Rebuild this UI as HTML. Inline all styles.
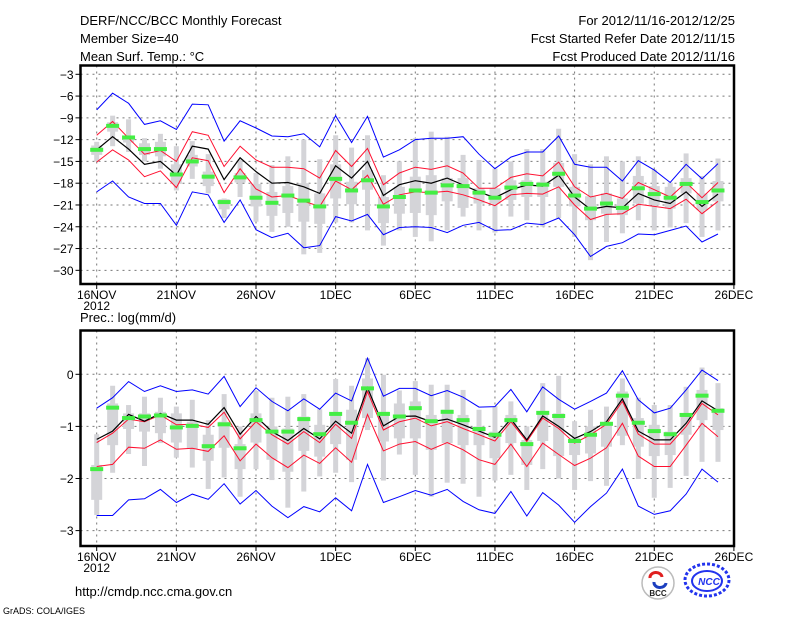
<!DOCTYPE html>
<html><head><meta charset="utf-8"><style>
body{margin:0;background:#fff;}
svg{display:block;font-family:"Liberation Sans",sans-serif;}
</style></head><body>
<svg id="chart" width="800" height="618" viewBox="0 0 800 618" xmlns="http://www.w3.org/2000/svg">
<rect width="800" height="618" fill="#fff"/>
<g font-size="13" fill="#000">
<text x="80" y="25">DERF/NCC/BCC Monthly Forecast</text>
<text x="80" y="43">Member Size=40</text>
<text x="80" y="61">Mean Surf. Temp.: °C</text>
<text x="735" y="25" text-anchor="end">For 2012/11/16-2012/12/25</text>
<text x="735" y="43" text-anchor="end">Fcst Started Refer Date 2012/11/15</text>
<text x="735" y="61" text-anchor="end">Fcst Produced Date 2012/11/16</text>
<text x="80" y="322">Prec.: log(mm/d)</text>
<text x="75" y="596">http://cmdp.ncc.cma.gov.cn</text>
<text x="3" y="614" font-size="9">GrADS: COLA/IGES</text>
</g>
<g id="top"></g>
<g id="bot"></g>
<g>
<circle cx="658" cy="583" r="16" fill="#fff" stroke="#bbb" stroke-width="1.5"/>
<path d="M650 578 a6 5 0 1 1 12 -1" fill="none" stroke="#e02020" stroke-width="3"/>
<path d="M654 582 a6 5 0 1 0 12 1" fill="none" stroke="#1c3fbf" stroke-width="3"/>
<text x="658" y="596" font-size="8" font-weight="bold" text-anchor="middle" fill="#222">BCC</text>
</g>
<g>
<ellipse cx="707" cy="580" rx="22" ry="16" fill="none" stroke="#2233ee" stroke-width="3" stroke-dasharray="3 2"/>
<ellipse cx="707" cy="581" rx="15" ry="10" fill="none" stroke="#2233ee" stroke-width="2"/>
<text x="709" y="585" font-size="10" font-weight="bold" font-style="italic" text-anchor="middle" fill="#2233ee">NCC</text>
</g>
</svg>
<script>
const days = Array.from({length:40},(_, i)=>i);
const xTickLabels = ["16NOV","21NOV","26NOV","1DEC","6DEC","11DEC","16DEC","21DEC","26DEC"];
const tTicks = [-3,-6,-9,-12,-15,-18,-21,-24,-27,-30];
const pTicks = [0,-1,-2,-3];

const tBlack = [-13.4,-11.6,-13.3,-15.4,-15.0,-16.9,-12.9,-13.3,-17.5,-14.5,-16.4,-18.0,-17.9,-18.5,-19.4,-15.6,-17.3,-15.0,-19.7,-18.2,-17.65,-18.0,-17.3,-18.25,-19.2,-20.0,-18.9,-18.25,-18.4,-16.9,-19.9,-21.6,-21.2,-21.4,-19.4,-20.3,-20.8,-19.2,-21.2,-19.5];
const tRedHi = [-11.4,-9.5,-11.8,-14.0,-13.5,-15.0,-10.9,-11.4,-15.7,-12.9,-14.8,-15.8,-15.8,-16.0,-17.3,-13.5,-15.7,-13.2,-18.2,-16.6,-15.8,-16.1,-15.6,-16.6,-18.7,-18.7,-17.2,-16.7,-17.0,-15.1,-18.5,-19.9,-19.4,-20.1,-17.9,-18.9,-19.9,-17.9,-20.0,-17.9];
const tRedLo = [-15.1,-13.4,-14.8,-17.1,-16.3,-18.6,-14.5,-14.9,-19.3,-16.0,-18.8,-19.9,-19.7,-20.5,-21.2,-17.7,-18.9,-16.9,-20.9,-19.6,-19.2,-19.3,-19.1,-19.6,-20.3,-21.1,-19.6,-19.4,-19.5,-18.5,-21.0,-23.0,-22.3,-22.2,-20.9,-21.2,-21.5,-20.2,-22.2,-20.5];
const tBlueHi = [-7.9,-5.6,-7.0,-9.9,-9.4,-10.6,-7.1,-7.2,-12.2,-9.4,-10.4,-11.5,-11.6,-11.2,-13.0,-8.7,-12.4,-8.8,-14.4,-13.4,-12.0,-11.8,-11.8,-11.6,-14.0,-16.0,-14.4,-13.7,-13.7,-11.5,-15.4,-15.8,-15.8,-17.7,-14.9,-16.2,-17.9,-15.4,-17.4,-15.3];
const tBlueLo = [-19.2,-17.7,-19.9,-20.8,-20.8,-23.8,-19.2,-19.6,-23.4,-20.3,-24.4,-25.5,-24.9,-26.9,-26.6,-22.6,-23.2,-22.3,-25.1,-24.1,-24.0,-24.1,-24.8,-23.8,-23.4,-24.5,-24.4,-23.5,-23.7,-22.8,-25.1,-28.1,-26.7,-26.2,-25.0,-25.1,-24.5,-23.9,-26.1,-25.0];
const tGreen = [-13.4,-10.1,-11.7,-13.3,-13.3,-16.8,-15.0,-17.1,-20.6,-17.2,-20.0,-20.7,-19.7,-20.4,-21.2,-17.4,-19.0,-17.6,-21.2,-19.9,-19.0,-19.3,-18.3,-18.4,-19.3,-20.0,-18.6,-18.1,-18.2,-16.7,-19.7,-21.5,-20.8,-21.4,-18.7,-19.5,-20.0,-18.1,-20.6,-19.0];
const tWhiskHi = [-12.3,-8.7,-9.2,-11.8,-11.2,-12.9,-12.2,-14.0,-20.1,-14.7,-16.6,-15.5,-14.3,-12.0,-14.7,-11.4,-13.1,-11.4,-16.9,-15.0,-11.8,-10.9,-11.6,-14.1,-14.8,-16.0,-15.0,-13.3,-13.3,-10.5,-14.0,-15.4,-14.3,-15.0,-14.3,-16.1,-17.9,-13.9,-17.0,-14.6];
const tWhiskLo = [-15.0,-12.9,-13.7,-15.0,-16.0,-19.0,-17.4,-19.4,-22.8,-19.9,-23.3,-24.7,-24.0,-27.8,-27.6,-23.4,-23.4,-24.5,-26.6,-24.5,-25.4,-26.0,-24.5,-22.6,-24.5,-24.8,-22.6,-23.1,-24.0,-22.8,-25.4,-28.6,-26.1,-24.9,-23.1,-24.5,-24.1,-23.5,-25.4,-24.5];
const tBoxHi = [-12.8,-9.6,-11.6,-12.5,-12.3,-15.4,-14.1,-16.4,-20.2,-16.6,-18.1,-19.2,-18.4,-18.0,-19.4,-15.4,-17.8,-16.2,-19.9,-18.5,-17.1,-16.9,-17.3,-17.3,-18.7,-18.7,-17.6,-17.6,-17.8,-15.2,-18.5,-19.8,-19.4,-20.1,-17.0,-18.4,-18.5,-17.3,-19.4,-17.7];
const tBoxLo = [-14.1,-10.9,-12.4,-14.1,-14.3,-18.1,-15.7,-18.4,-21.6,-17.9,-21.2,-22.5,-22.1,-23.3,-23.6,-20.1,-20.9,-18.9,-23.5,-22.2,-22.1,-22.4,-20.5,-21.4,-20.8,-20.8,-20.3,-19.9,-19.9,-18.5,-21.2,-23.1,-22.2,-22.4,-20.8,-21.0,-21.5,-19.4,-21.7,-20.5];

const pBlack = [-1.25,-1.09,-0.77,-0.90,-0.75,-0.88,-0.88,-0.96,-0.64,-1.15,-0.81,-1.10,-1.27,-1.04,-1.24,-0.90,-1.13,-0.26,-0.99,-0.81,-0.80,-0.91,-0.86,-0.97,-1.09,-1.21,-0.86,-1.26,-0.80,-1.00,-1.23,-1.10,-0.91,-0.47,-1.09,-1.26,-1.26,-0.94,-0.51,-0.70];
const pRedHi = [-1.31,-1.13,-0.86,-0.91,-0.78,-0.97,-0.96,-1.02,-0.73,-1.24,-0.91,-1.16,-1.34,-1.10,-1.31,-0.96,-1.23,-0.33,-1.07,-0.91,-0.84,-0.99,-0.91,-1.04,-1.16,-1.28,-0.91,-1.29,-0.84,-1.04,-1.32,-1.16,-0.96,-0.52,-1.15,-1.34,-1.34,-1.00,-0.56,-0.78];
const pRedLo = [-1.77,-1.73,-1.40,-1.42,-1.26,-1.44,-1.42,-1.48,-1.18,-1.66,-1.34,-1.60,-1.79,-1.55,-1.71,-1.41,-1.69,-0.77,-1.47,-1.34,-1.29,-1.44,-1.31,-1.45,-1.64,-1.73,-1.34,-1.77,-1.32,-1.54,-1.75,-1.61,-1.41,-0.94,-1.57,-1.77,-1.77,-1.36,-0.94,-1.20];
const pBlueHi = [-0.65,-0.45,-0.14,-0.33,-0.22,-0.33,-0.30,-0.38,-0.04,-0.62,-0.26,-0.52,-0.70,-0.47,-0.67,-0.36,-0.51,0.31,-0.42,-0.27,-0.27,-0.41,-0.31,-0.44,-0.63,-0.62,-0.29,-0.72,-0.24,-0.48,-0.67,-0.52,-0.36,0.07,-0.49,-0.74,-0.65,-0.30,0.08,-0.12];
const pBlueLo = [-2.71,-2.71,-2.41,-2.39,-2.21,-2.46,-2.30,-2.40,-2.10,-2.49,-2.23,-2.53,-2.75,-2.54,-2.64,-2.37,-2.62,-1.73,-2.46,-2.35,-2.23,-2.32,-2.21,-2.44,-2.60,-2.67,-2.25,-2.72,-2.27,-2.51,-2.84,-2.54,-2.28,-1.82,-2.53,-2.69,-2.62,-2.30,-1.82,-2.07];
const pGreen = [-1.82,-0.64,-0.84,-0.81,-0.79,-1.02,-0.99,-1.38,-0.96,-1.42,-0.88,-1.10,-1.10,-0.86,-1.15,-0.76,-0.93,-0.27,-0.76,-0.81,-0.65,-0.90,-0.72,-0.88,-1.05,-1.16,-0.88,-1.34,-0.74,-0.80,-1.28,-1.16,-0.95,-0.41,-0.93,-1.09,-1.15,-0.78,-0.41,-0.70];
const pWhiskHi = [-1.15,-0.22,-0.59,-0.43,-0.45,-0.62,-0.49,-0.88,-0.38,-1.00,-0.32,-0.45,-0.43,-0.38,-0.67,-0.09,-0.22,0.31,-0.01,-0.31,-0.13,-0.20,-0.20,-0.30,-0.68,-0.61,-0.52,-1.00,-0.17,-0.03,-0.90,-0.68,-0.62,-0.08,-0.45,-0.59,-0.59,-0.24,0.13,-0.17];
const pWhiskLo = [-2.70,-1.89,-1.53,-1.76,-1.32,-1.60,-1.79,-2.20,-1.98,-2.35,-1.82,-2.03,-2.56,-2.25,-1.96,-1.89,-2.07,-1.07,-2.04,-1.54,-1.93,-2.35,-2.08,-2.10,-2.35,-2.04,-1.93,-2.22,-1.82,-2.00,-2.22,-2.05,-2.14,-1.36,-2.01,-2.37,-2.18,-1.95,-1.68,-1.68];
const pBoxHi = [-1.74,-0.56,-0.75,-0.75,-0.72,-0.75,-0.91,-1.16,-0.91,-1.34,-0.75,-1.00,-1.04,-0.81,-0.97,-0.73,-0.68,-0.08,-0.72,-0.56,-0.52,-0.78,-0.68,-0.78,-1.00,-1.10,-0.78,-1.26,-0.75,-0.75,-1.22,-1.00,-0.94,-0.33,-0.84,-0.97,-1.10,-0.75,-0.30,-0.65];
const pBoxLo = [-2.41,-1.36,-1.05,-1.10,-1.13,-1.31,-1.43,-1.66,-1.41,-1.82,-1.31,-1.64,-1.87,-1.47,-1.58,-1.34,-1.64,-0.84,-1.29,-1.23,-1.23,-1.45,-1.32,-1.36,-1.36,-1.61,-1.32,-1.74,-1.28,-1.57,-1.55,-1.52,-1.39,-1.18,-1.39,-1.57,-1.55,-1.16,-0.88,-1.07];

const NS = "http://www.w3.org/2000/svg";
const X0 = 96.7, DX = 15.93;
function xS(d){ return X0 + DX*d; }
function mk(tag, attrs, parent){ const e=document.createElementNS(NS,tag); for(const k in attrs) e.setAttribute(k,attrs[k]); parent.appendChild(e); return e; }

function panel(g, cfg){
  const L=80.5, R=734, T=cfg.top, B=cfg.bottom;
  // grid
  for(let i=0;i<=8;i++){
    const x=xS(i*5);
    if(i<8){
      const gl = mk('line',{x1:x,x2:x,y1:T,y2:B,stroke:'#777','stroke-width':1,'stroke-dasharray':'2 4'},g);
      
      
    }
    const tk = mk('line',{x1:x,x2:x,y1:B,y2:B+5,stroke:'#000'},g);
    
    
    const lb = mk('text',{x:x,y:B+15,'font-size':12,'text-anchor':'middle'},g);
    lb.textContent = xTickLabels[i];
    
    
  }
  const yr = mk('text',{x:xS(0),y:B+26,'font-size':12,'text-anchor':'middle'},g);
  yr.textContent='2012';
  
  
  cfg.ticks.forEach(v=>{
    const y=cfg.y(v);
    const gl = mk('line',{x1:L,x2:R,y1:y,y2:y,stroke:'#777','stroke-width':1,'stroke-dasharray':'2 4'},g);
    
    
    const tk = mk('line',{x1:L-5,x2:L,y1:y,y2:y,stroke:'#000'},g);
    
    
    const lb = mk('text',{x:L-7,y:y+4.5,'font-size':12,'text-anchor':'end'},g);
    lb.textContent = String(v).replace('-','\u2212');
    
    
  });
  // boxes
  days.forEach(d=>{
    const x=xS(d);
    const w = mk('rect',{x:x-2.5,width:5,y:cfg.y(cfg.wh[d]),height:cfg.y(cfg.wl[d])-cfg.y(cfg.wh[d]),fill:'#d4d4d8'},g);
    
    
    const b = mk('rect',{x:x-5.5,width:11,y:cfg.y(cfg.bh[d]),height:cfg.y(cfg.bl[d])-cfg.y(cfg.bh[d]),fill:'#d4d4d8'},g);
    
    
  });
  const line=(arr,col,name,sw)=>{
    const p = mk('polyline',{points:days.map(d=>xS(d).toFixed(1)+','+cfg.y(arr[d]).toFixed(1)).join(' '),fill:'none',stroke:col,'stroke-width':sw},g);
    
    
  };
  line(cfg.bh2,'#0000ff','blue-upper-line',1);
  line(cfg.bl2,'#0000ff','blue-lower-line',1);
  line(cfg.rh,'#ff1030','red-upper-line',1);
  line(cfg.rl,'#ff1030','red-lower-line',1);
  line(cfg.k,'#000','ensemble-mean-line',1.2);
  days.forEach(d=>{
    const gr = mk('rect',{x:xS(d)-6.5,width:13,y:cfg.y(cfg.gr[d])-2,height:4,fill:'#44ee44'},g);
    
    
  });
  const f = mk('rect',{x:L,y:T,width:R-L,height:B-T,fill:'none',stroke:'#000','stroke-width':2.5},g);
  
  
}
panel(document.getElementById('top'),{top:65.5,bottom:284,ticks:tTicks,y:v=>74.3+(-3-v)*7.26,
  wh:tWhiskHi,wl:tWhiskLo,bh:tBoxHi,bl:tBoxLo,bh2:tBlueHi,bl2:tBlueLo,rh:tRedHi,rl:tRedLo,k:tBlack,gr:tGreen});
panel(document.getElementById('bot'),{top:330.5,bottom:546,ticks:pTicks,y:v=>374.3-v*52.1,
  wh:pWhiskHi,wl:pWhiskLo,bh:pBoxHi,bl:pBoxLo,bh2:pBlueHi,bl2:pBlueLo,rh:pRedHi,rl:pRedLo,k:pBlack,gr:pGreen});
</script>
</body></html>
